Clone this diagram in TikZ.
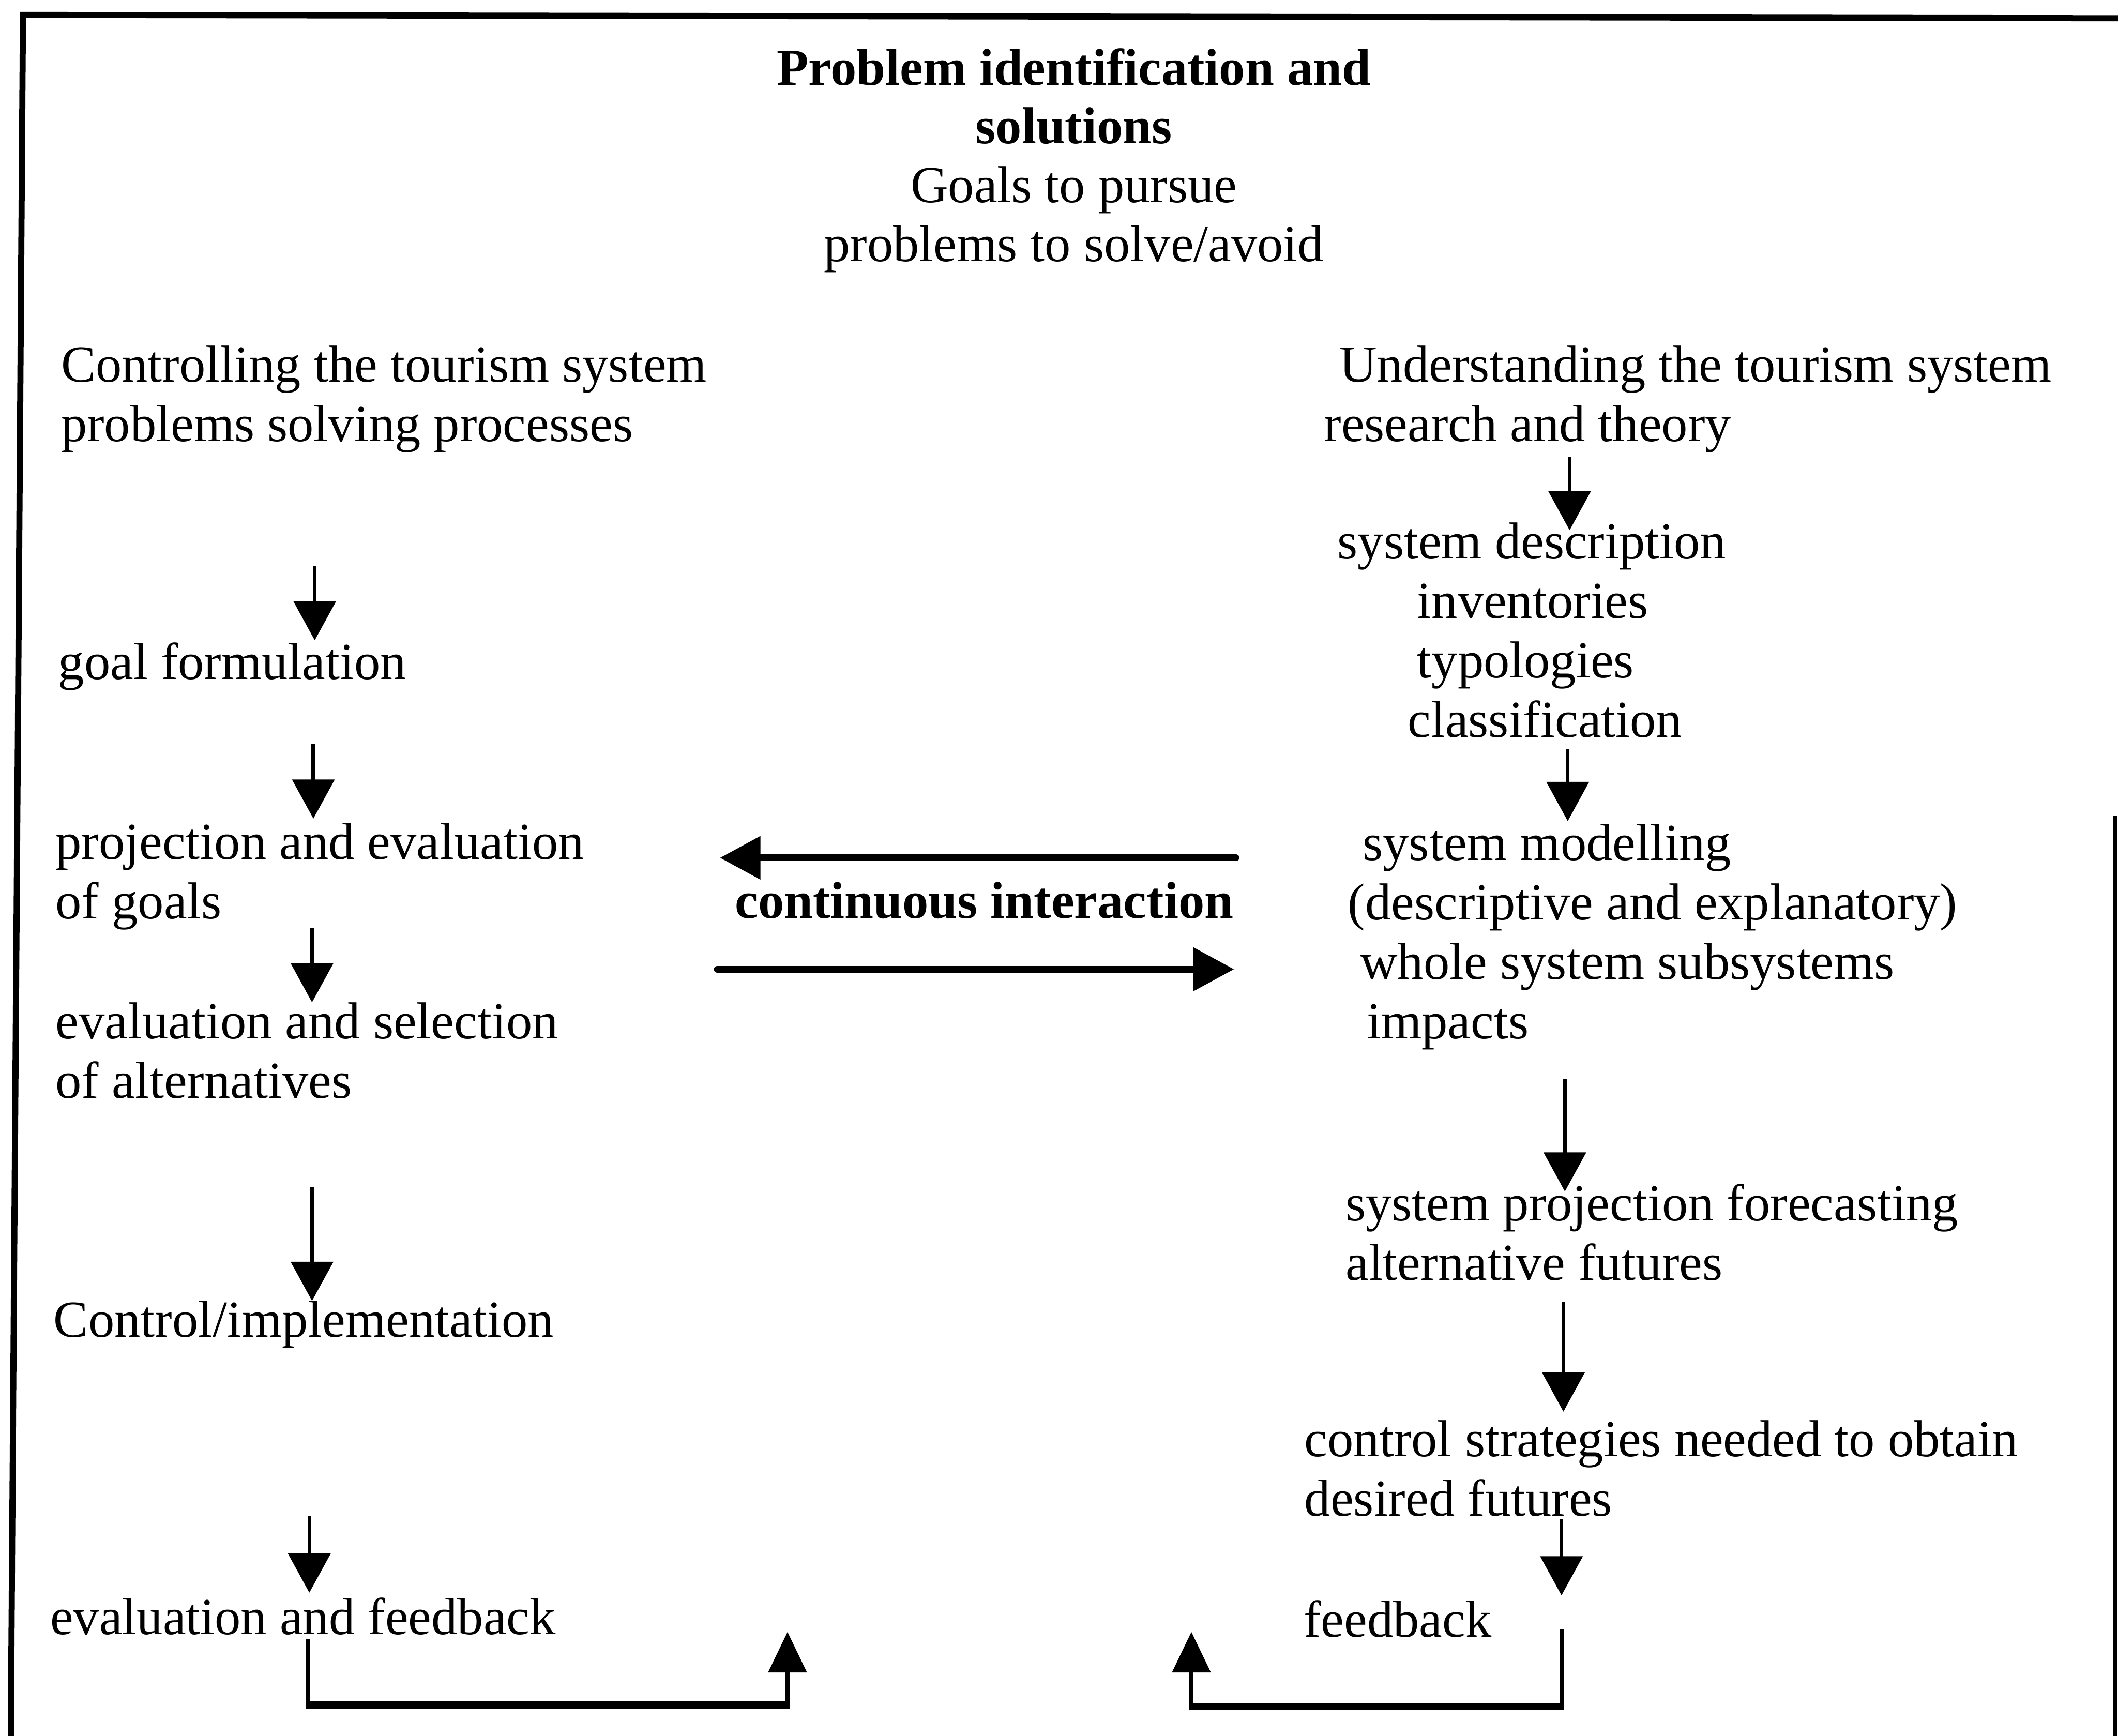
\documentclass[tikz,border=0pt]{standalone}
\usepackage{fontspec}
\setmainfont{Liberation Serif}
\usetikzlibrary{arrows.meta}
\begin{document}
\begin{tikzpicture}[x=1pt,y=-1pt,
  txt/.style={anchor=north west, inner sep=0pt, align=left,
              font=\fontsize{38.5}{44}\selectfont},
  flow/.style={line width=2.8pt, -{Triangle[length=29pt,width=31pt]}},
  link/.style={line width=5pt, line cap=round, -{Triangle[length=30pt,width=31pt]}},
  loopline/.style={line width=3pt},
  loophead/.style={line width=3pt, -{Triangle[length=30pt,width=28pt]}},
  framepen/.style={line width=4.5pt}]

\useasboundingbox (0,0) rectangle (1568,1285);

% outer frame (open at the bottom)
\draw[framepen] (8,1285) -- (17,11) -- (1568,13.5);
\draw[line width=3pt] (1566,604) -- (1566,1285);

% heading
\node[anchor=north, inner sep=0pt, align=center,
      font=\fontsize{38.5}{43.5}\selectfont] (title) at (795,32.2)
  {\strut\textbf{Problem identification and}\\\textbf{solutions}\\Goals to pursue\\problems to solve/avoid};

% left column: controlling the system
\node[txt] (ctrl)  at (45,251.8)  {\strut Controlling the tourism system\\problems solving processes};
\node[txt] (goal)  at (43,471.8)  {\strut goal formulation};
\node[txt] (projev) at (41,605.2) {\strut projection and evaluation\\of goals};
\node[txt] (evsel) at (41,737.8)  {\strut evaluation and selection\\of alternatives};
\node[txt] (impl)  at (39.6,958.8) {\strut Control/implementation};
\node[txt] (evfb)  at (37,1178.8) {\strut evaluation and feedback};

% right column: understanding the system
\node[txt] (under) at (980,251.7) {\strut\hspace*{11.4pt}Understanding the tourism system\\research and theory};
\node[txt] (sysdesc) at (990,382.7) {\strut system description\\\hspace*{59pt}inventories\\\hspace*{59pt}typologies\\\hspace*{52pt}classification};
\node[txt] (model) at (997.7,605.8) {\strut\hspace*{11pt}system modelling\\(descriptive and explanatory)\\\hspace*{9pt}whole system subsystems\\\hspace*{14pt}impacts};
\node[txt] (sysproj) at (996,872.5) {\strut system projection forecasting\\alternative futures};
\node[txt] (strat) at (965.6,1047.2) {\strut control strategies needed to obtain\\desired futures};
\node[txt] (fb) at (965,1180.7) {\strut feedback};

% centre label
\node[anchor=base, inner sep=0pt, font=\fontsize{38.5}{44}\selectfont\bfseries]
  (inter) at (728.6,679.6) {continuous interaction};

% arrow end points
\coordinate (a1s) at (233,419);    \coordinate (a1e) at (233,474);
\coordinate (a2s) at (232,551);    \coordinate (a2e) at (232,606);
\coordinate (a3s) at (231,687);    \coordinate (a3e) at (231,742);
\coordinate (a4s) at (231,879);    \coordinate (a4e) at (231,963);
\coordinate (a5s) at (229,1122);   \coordinate (a5e) at (229,1179);
\coordinate (b1s) at (1162,338);   \coordinate (b1e) at (1162,392.5);
\coordinate (b2s) at (1160.6,554.7); \coordinate (b2e) at (1160.6,607.8);
\coordinate (b3s) at (1158.5,798.5); \coordinate (b3e) at (1158.5,882);
\coordinate (b4s) at (1157.4,964); \coordinate (b4e) at (1157.4,1045);
\coordinate (b5s) at (1156,1124.6); \coordinate (b5e) at (1156,1181);
\coordinate (toLs) at (915,635);   \coordinate (toLe) at (533,635);
\coordinate (toRs) at (531,717.5); \coordinate (toRe) at (913.6,717.5);
\coordinate (lfs) at (228,1213);   \coordinate (lfe) at (583,1208);
\coordinate (rfs) at (1156,1206);  \coordinate (rfe) at (882,1208);

% flow arrows
\foreach \p in {a1,a2,a3,a4,a5,b1,b2,b3,b4,b5}
  \draw[flow] (\p s) -- (\p e);

% continuous interaction arrows
\draw[link] (toLs) -- (toLe);
\draw[link] (toRs) -- (toRe);

% feedback loops
\draw[loophead] (lfs) -- (228,1262) -- (583,1262) -- (lfe);
\draw[line width=5.5pt] (226.5,1262) -- (584.5,1262);
\draw[loophead] (rfs) -- (1156,1263.3) -- (882,1263.3) -- (rfe);
\draw[line width=5.5pt] (1157.5,1263.3) -- (880.5,1263.3);
\end{tikzpicture}
\end{document}
